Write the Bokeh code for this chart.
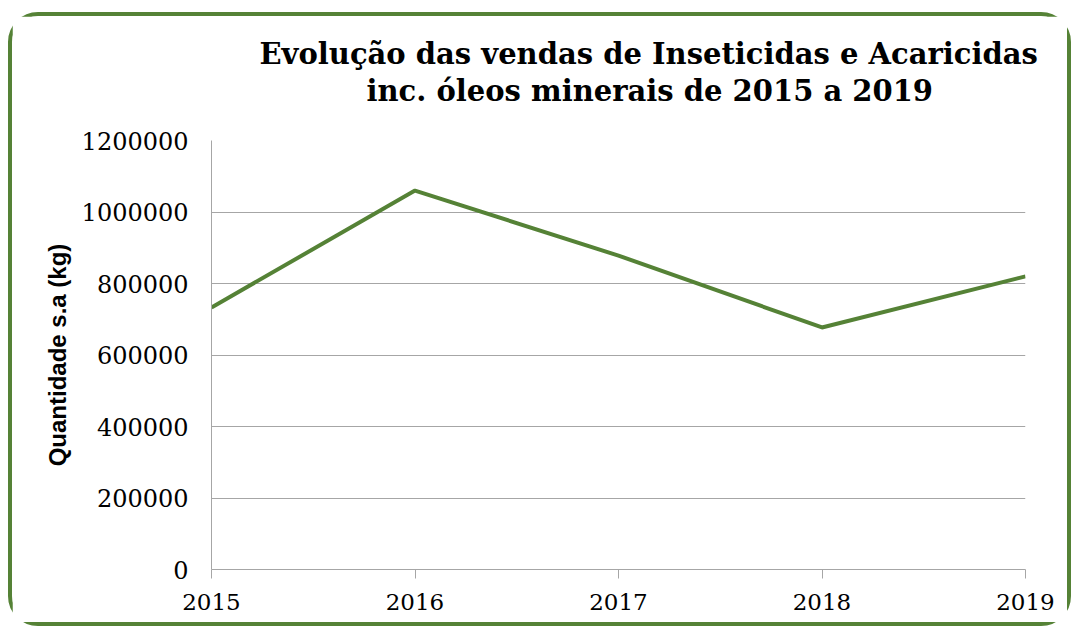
from bokeh.plotting import figure
from bokeh.models import FixedTicker, Range1d, NumeralTickFormatter, Title
from bokeh.embed import file_html
from bokeh.resources import INLINE

# Data
years = [2015, 2016, 2017, 2018, 2019]
quantidade = [733000, 1060000, 878000, 677000, 820000]
y_ticks = [0, 200000, 400000, 600000, 800000, 1000000, 1200000]
title_line1 = "Evolução das vendas de Inseticidas e Acaricidas"
title_line2 = "inc. óleos minerais de 2015 a 2019"
y_label = "Quantidade s.a (kg)"

GREEN = "#558236"
GRID = "#a6a6a6"

p = figure(
    width=1063, height=614,
    output_backend="svg", toolbar_location=None,
    x_range=Range1d(2015, 2019), y_range=Range1d(0, 1200000),
    min_border_left=199, min_border_right=50, min_border_top=124, min_border_bottom=61,
    styles={"margin-left": "8px", "margin-top": "12px",
            "border": "4px solid " + GREEN, "border-radius": "30px"},
)
p.background_fill_color = "white"
p.border_fill_color = "white"
p.outline_line_color = None

def style_title(t, offset, pad_bottom):
    t.align = "left"
    t.offset = offset
    t.text_font = "DejaVu Serif"
    t.text_font_style = "bold"
    t.text_font_size = "29px"
    t.text_color = "black"
    t.standoff = 0
    t.padding = (0, 0, 0, pad_bottom)

p.title.text = title_line1
style_title(p.title, 48, 1)
t2 = Title(text=title_line2)
style_title(t2, 155, 33)
p.add_layout(t2, "above")

p.line(years, quantidade, line_color=GREEN, line_width=4)

# X axis
p.xaxis.ticker = FixedTicker(ticks=years)
p.xaxis.major_tick_out = 9
p.xaxis.major_tick_in = 0
p.xaxis.minor_tick_line_color = None
p.xaxis.axis_line_color = GRID
p.xaxis.major_tick_line_color = GRID
p.xaxis.major_label_text_font = "DejaVu Serif"
p.xaxis.major_label_text_font_size = "23px"
p.xaxis.major_label_text_color = "black"
p.xaxis.major_label_standoff = 15

# Y axis
p.yaxis.ticker = FixedTicker(ticks=y_ticks)
p.yaxis.formatter = NumeralTickFormatter(format="0")
p.yaxis.major_tick_out = 0
p.yaxis.major_tick_in = 0
p.yaxis.minor_tick_line_color = None
p.yaxis.axis_line_color = GRID
p.yaxis.major_label_text_font = "DejaVu Serif"
p.yaxis.major_label_text_font_size = "24px"
p.yaxis.major_label_text_color = "black"
p.yaxis.major_label_standoff = 23
p.yaxis.axis_label = y_label
p.yaxis.axis_label_text_font = "Liberation Sans"
p.yaxis.axis_label_text_font_style = "bold"
p.yaxis.axis_label_text_font_size = "24px"
p.yaxis.axis_label_text_color = "black"
p.yaxis.axis_label_standoff = 8

p.xgrid.grid_line_color = None
p.ygrid.ticker = FixedTicker(ticks=y_ticks)
p.ygrid.grid_line_color = GRID
p.ygrid.grid_line_width = 1

open("out.html", "w").write(file_html(p, INLINE))
